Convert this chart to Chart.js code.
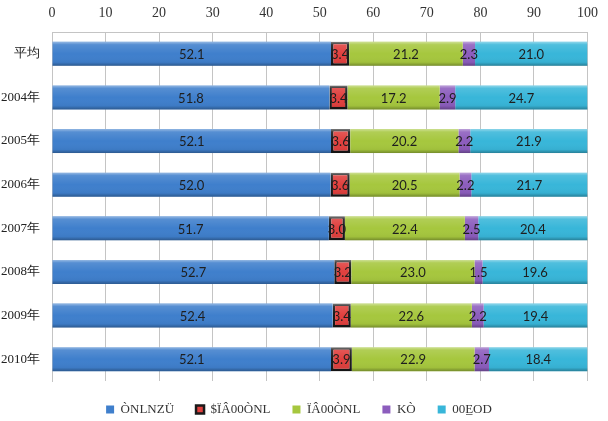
<!DOCTYPE html>
<html>
<head>
<meta charset="utf-8">
<script src="https://cdn.jsdelivr.net/npm/chart.js@4/dist/chart.umd.min.js"></script>
<style>
  body { margin: 0; background: #fff; }
</style>
</head>
<body>
<canvas id="bars" width="608" height="421"></canvas>
<script>
const categories = ['平均', '2004年', '2005年', '2006年', '2007年', '2008年', '2009年', '2010年'];
const seriesNames = ['ÒNLNZÜ', '$ÏÂ00ÒNL', 'ÏÂ00ÒNL', 'KÒ', '00E̲OD'];
const series1 = [52.1, 51.8, 52.1, 52.0, 51.7, 52.7, 52.4, 52.1];
const series2 = [3.4, 3.4, 3.6, 3.6, 3.0, 3.2, 3.4, 3.9];
const series3 = [21.2, 17.2, 20.2, 20.5, 22.4, 23.0, 22.6, 22.9];
const series4 = [2.3, 2.9, 2.2, 2.2, 2.5, 1.5, 2.2, 2.7];
const series5 = [21.0, 24.7, 21.9, 21.7, 20.4, 19.6, 19.4, 18.4];
const xTicks = [0, 10, 20, 30, 40, 50, 60, 70, 80, 90, 100];

const colors = ['#3f7fcc', '#e0403e', '#a6c73e', '#8c5dbd', '#38b6d9'];

// bevel look + value labels
const bevel = {
  id: 'bevel',
  beforeUpdate(chart) {
    const lg = chart.legend;
    if (lg && !lg._patched) {
      const fit = lg.fit;
      lg.fit = function () { fit.call(this); this.height = 40; };
      lg._patched = true;
    }
  },
  afterDatasetsDraw(chart) {
    const ctx = chart.ctx;
    chart.data.datasets.forEach((ds, i) => {
      const meta = chart.getDatasetMeta(i);
      meta.data.forEach((el, j) => {
        const p = el.getProps(['x', 'y', 'base', 'height'], true);
        const l = Math.min(p.base, p.x), r = Math.max(p.base, p.x);
        const t = p.y - p.height / 2, b = p.y + p.height / 2;
        const g = ctx.createLinearGradient(0, t, 0, b);
        g.addColorStop(0, 'rgba(255,255,255,0.45)');
        g.addColorStop(0.12, 'rgba(255,255,255,0.12)');
        g.addColorStop(0.5, 'rgba(255,255,255,0)');
        g.addColorStop(0.85, 'rgba(0,0,0,0.04)');
        g.addColorStop(1, 'rgba(0,0,0,0.3)');
        ctx.save();
        ctx.fillStyle = g;
        ctx.fillRect(l, t, r - l, b - t);
        ctx.restore();
      });
    });
    chart.data.datasets.forEach((ds, i) => {
      const meta = chart.getDatasetMeta(i);
      meta.data.forEach((el, j) => {
        const p = el.getProps(['x', 'y', 'base'], true);
        ctx.save();
        ctx.font = '13px Lato';
        ctx.fillStyle = '#1e1e1e';
        ctx.textAlign = 'center';
        ctx.textBaseline = 'middle';
        ctx.fillText(ds.data[j].toFixed(1), (p.x + p.base) / 2, p.y + 1);
        ctx.restore();
      });
    });
  }
};

const values = [series1, series2, series3, series4, series5];

new Chart(document.getElementById('bars'), {
  type: 'bar',
  data: {
    labels: categories,
    datasets: values.map((v, i) => ({
      label: seriesNames[i],
      data: v,
      backgroundColor: colors[i],
      borderColor: i == 1 ? '#1a1a1a' : colors[i],
      borderWidth: i == 1 ? 2.5 : 0,
      borderSkipped: false,
      barPercentage: 0.55,
      categoryPercentage: 1
    }))
  },
  options: {
    indexAxis: 'y',
    responsive: false,
    animation: false,
    layout: { padding: { right: 10, top: 0, bottom: 0 } },
    plugins: {
      legend: {
        position: 'bottom',
        labels: {
          boxWidth: 8,
          boxHeight: 8,
          padding: 22,
          color: '#333',
          font: { family: 'Liberation Serif', size: 13 }
        }
      },
      tooltip: { enabled: false }
    },
    scales: {
      x: {
        position: 'top',
        stacked: true,
        min: 0,
        max: 100,
        afterBuildTicks(scale) { scale.ticks = xTicks.map(v => ({ value: v })); },
        afterFit(scale) { scale.height = 32; },
        grid: { color: '#c4c4c4', drawTicks: false },
        border: { color: '#c4c4c4' },
        ticks: {
          padding: 10,
          color: '#333',
          font: { family: 'Liberation Serif', size: 14 }
        }
      },
      y: {
        stacked: true,
        afterFit(scale) { scale.width = 52; },
        grid: { display: false },
        border: { color: '#c4c4c4' },
        ticks: {
          padding: 4,
          color: '#222',
          font: { family: 'Liberation Serif', size: 13 }
        }
      }
    }
  },
  plugins: [bevel]
});
</script>
</body>
</html>
